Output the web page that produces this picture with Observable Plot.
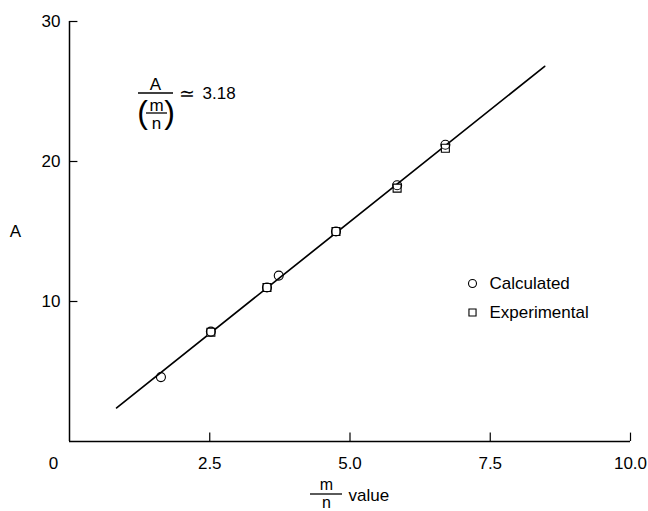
<!DOCTYPE html>
<html><head><meta charset="utf-8">
<script src="https://cdn.jsdelivr.net/npm/d3@7"></script>
<script src="https://cdn.jsdelivr.net/npm/@observablehq/plot@0.6"></script>
<style>
body{margin:0;background:#fff}
#chart svg{font-family:"Liberation Sans",Arial,Helvetica,sans-serif}
</style>
</head><body><div id="chart"></div>
<script>
// m/n value and A for the calculated points
const calcRatio = [1.63, 2.52, 3.52, 3.73, 4.75, 5.84, 6.70];
const calcA = [4.6, 7.85, 11.0, 11.85, 15.0, 18.3, 21.2];
// experimental points
const expRatio = [2.52, 3.52, 4.75, 5.84, 6.70];
const expA = [7.8, 11.0, 15.0, 18.1, 20.95];
// fitted line, slope 3.18
const fitRatio = [0.84, 8.47];
const fitA = [2.4, 26.8];
const xTicks = [2.5, 5, 7.5, 10];
const yTicks = [10, 20, 30];
const legendLabels = ["Calculated", "Experimental"];

const calc = calcRatio.map((x, i) => ({x, y: calcA[i]}));
const exp = expRatio.map((x, i) => ({x, y: expA[i]}));
const fit = fitRatio.map((x, i) => ({x, y: fitA[i]}));

function bars(index, scales, values, dims) {
  const L = dims.marginLeft, T = dims.marginTop, B = dims.height - dims.marginBottom;
  const g = d3.create("svg:g").attr("stroke", "black").attr("stroke-width", 1.3);
  const seg = (x1, x2, y) => g.append("line").attr("x1", x1).attr("x2", x2).attr("y1", y).attr("y2", y);
  seg(L + 69, L + 104, T + 72);   // A / (m/n)
  seg(L + 77, L + 98, T + 92);    // m / n inside parens
  seg(L + 241, L + 273, B + 53);  // x label fraction
  return g.node();
}

const fs = 17;
const T = (s, o) => Plot.text([s], {lineAnchor: "middle", textAnchor: "middle", fontSize: fs, ...o});
const plot = Plot.plot({
  width: 648, height: 511,
  marginLeft: 69, marginRight: 18, marginTop: 21, marginBottom: 70,
  style: {fontFamily: "Liberation Sans, Arial, sans-serif", fontSize: fs + "px", background: "white", color: "black"},
  x: {domain: [0, 10]},
  y: {domain: [0, 30]},
  marks: [
    Plot.axisX(xTicks, {tickSize: 0, tickPadding: 15, tickFormat: d3.format(".1f"), label: null, fontSize: fs}),
    Plot.axisY(yTicks, {tickSize: 0, tickPadding: 9, label: null, fontSize: fs}),
    Plot.text(["0"], {x: () => 0, y: () => 0, dx: -16, dy: 15, lineAnchor: "top", fontSize: fs}),
    Plot.ruleX([0], {y1: 0, y2: 30, strokeWidth: 1.5}),
    Plot.ruleY([0], {x1: 0, x2: 10, strokeWidth: 1.5}),
    Plot.ruleX(xTicks, {x: d => d, y1: 0, y2: 0.6, strokeWidth: 1.2}),
    Plot.ruleY(yTicks, {y: d => d, x1: 0, x2: 0.15, strokeWidth: 1.2}),
    Plot.line(fit, {x: "x", y: "y", stroke: "black", strokeWidth: 1.7}),
    Plot.dot(exp, {x: "x", y: "y", symbol: "square", r: 4.5, stroke: "black", fill: "white", strokeWidth: 1.1}),
    Plot.dot(calc, {x: "x", y: "y", symbol: "circle", r: 4.5, stroke: "black", fill: "none", strokeWidth: 1.1}),
    // legend
    Plot.dot([legendLabels[0]], {frameAnchor: "top-left", dx: 403, dy: 262, symbol: "circle", r: 4, stroke: "black", fill: "white", strokeWidth: 1.1}),
    Plot.dot([legendLabels[1]], {frameAnchor: "top-left", dx: 403, dy: 291, symbol: "square", r: 4, stroke: "black", fill: "white", strokeWidth: 1.1}),
    T(legendLabels[0], {frameAnchor: "top-left", dx: 420, dy: 262, textAnchor: "start"}),
    T(legendLabels[1], {frameAnchor: "top-left", dx: 420, dy: 291, textAnchor: "start"}),
    // y label
    T("A", {frameAnchor: "left", dx: -54}),
    // formula
    T("A", {frameAnchor: "top-left", dx: 86, dy: 63}),
    T("(", {frameAnchor: "top-left", dx: 73, dy: 91, fontSize: 32}),
    T(")", {frameAnchor: "top-left", dx: 100, dy: 91, fontSize: 32}),
    T("m", {frameAnchor: "top-left", dx: 87, dy: 84}),
    T("n", {frameAnchor: "top-left", dx: 87, dy: 102}),
    T("≃", {frameAnchor: "top-left", dx: 117, dy: 72, fontSize: 19}),
    T("3.18", {frameAnchor: "top-left", dx: 133, dy: 72, textAnchor: "start"}),
    // x label
    T("m", {frameAnchor: "bottom-left", dx: 257, dy: 43, fontSize: 16}),
    T("n", {frameAnchor: "bottom-left", dx: 257, dy: 61, fontSize: 16}),
    T("value", {frameAnchor: "bottom-left", dx: 279, dy: 54, textAnchor: "start"}),
    bars
  ]
});
document.getElementById("chart").append(plot);
</script>
</body></html>
